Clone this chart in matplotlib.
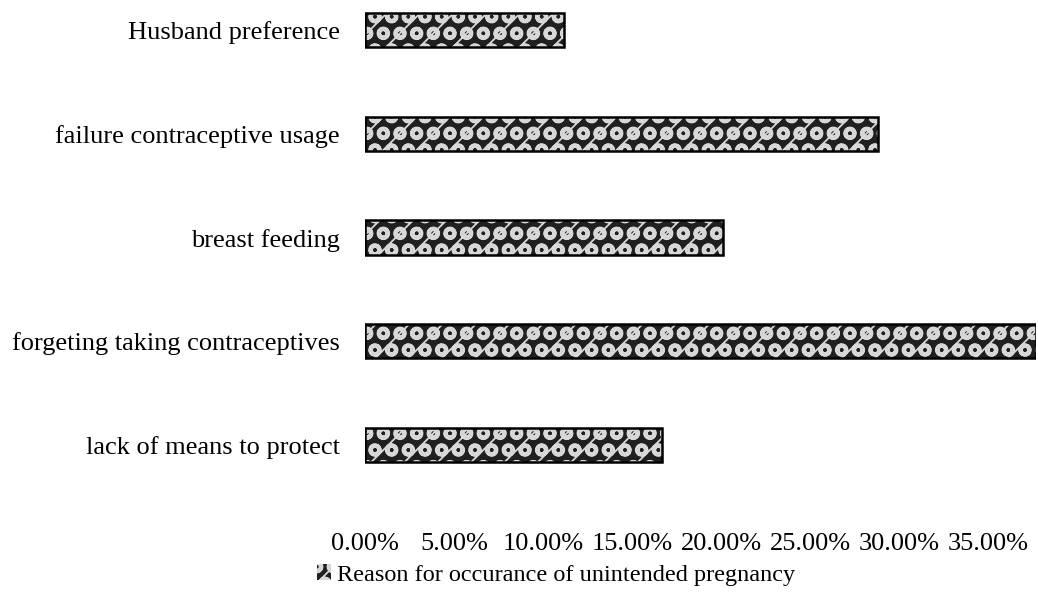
import numpy as np
import matplotlib
matplotlib.use("Agg")
import matplotlib.pyplot as plt
import matplotlib.patches as mpatches

# data (percent)
reasons = ["lack of means to protect", "forgeting taking contraceptives",
           "breast feeding", "failure contraceptive usage", "Husband preference"]
share = [16.7, 37.7, 20.1, 28.8, 11.2]
xticks = [0, 5, 10, 15, 20, 25, 30, 35]
series_name = "Reason for occurance of unintended pregnancy"

plt.rcParams['font.family'] = ['Liberation Serif', 'DejaVu Serif']
plt.rcParams['hatch.color'] = 'white'
plt.rcParams['hatch.linewidth'] = 1.3

fig = plt.figure(figsize=(10.38, 5.94), dpi=100, facecolor='white')
ax = fig.add_axes([365 / 1038, 1 - 497 / 594, (1036 - 365) / 1038, 497 / 594])

y = np.arange(len(reasons))
bar_h = 0.33
pattern = 'Oo/'

# patterned fill, then a black frame on top
ax.barh(y, share, height=bar_h, color='#202020', hatch=pattern, edgecolor='#d8d8d8', linewidth=0, zorder=2)
ax.barh(y, share, height=bar_h, fill=False, edgecolor='black', linewidth=1.8, zorder=3)

ax.set_xlim(0, max(share))
ax.set_ylim(-0.5, 4.29)
ax.set_yticks(y)
ax.set_yticklabels(reasons, fontsize=19)
ax.set_xticks(xticks)
ax.set_xticklabels([f"{v:.2f}%" for v in xticks], fontsize=19)
ax.tick_params(axis='y', length=0, pad=18)
ax.tick_params(axis='x', length=0, pad=26)
for s in ax.spines.values():
    s.set_visible(False)

handle = mpatches.Patch(facecolor='#202020', hatch=pattern, edgecolor='#d8d8d8', linewidth=0)
fig.legend(handles=[handle], labels=[series_name], loc='center', bbox_to_anchor=(556 / 1038, 1 - 575 / 594),
           frameon=False, fontsize=17.5, handlelength=0.6, handleheight=0.6, handletextpad=0.25)

fig.savefig("out.png", dpi=100, facecolor='white')
